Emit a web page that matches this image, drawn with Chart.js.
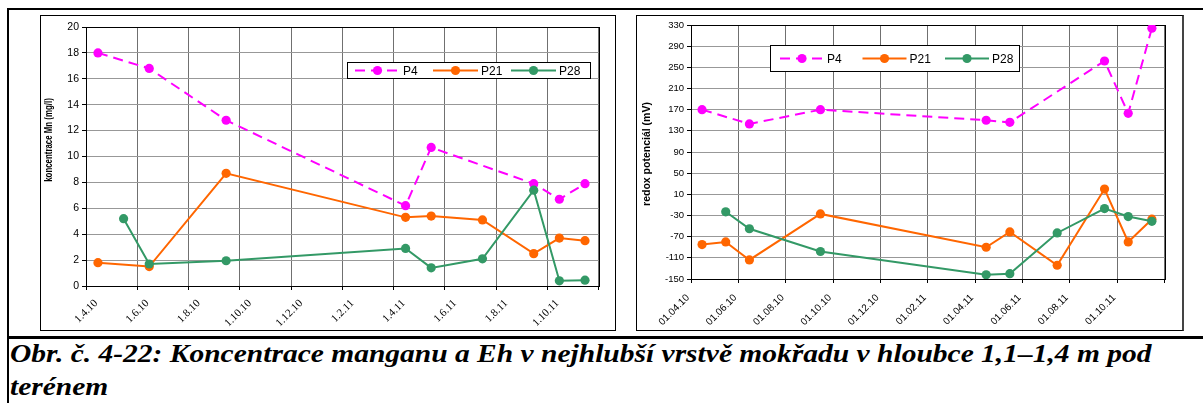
<!DOCTYPE html>
<html>
<head>
<meta charset="utf-8">
<script src="https://cdn.jsdelivr.net/npm/chart.js@4.4.1/dist/chart.umd.min.js"></script>
<style>
  body { margin: 0; background: #fff; width: 1203px; height: 403px; overflow: hidden; position: relative; }
  .line { position: absolute; background: #000; }
  .box { position: absolute; border: 1px solid #000; background: #fff; }
  #boxMn { left: 40px; top: 15px; width: 574px; height: 314px; }
  #boxEh { left: 636px; top: 15px; width: 545px; height: 314px; border-right: 2px solid #444; }
  .box canvas { position: absolute; left: 0; top: 0; }
  #caption {
    position: absolute; left: 10px; top: 337px; margin: 0;
    font: italic bold 25px 'Liberation Serif', 'Times New Roman', serif;
    line-height: 33px; color: #000; white-space: nowrap;
    transform: scaleX(1.18); transform-origin: 0 0;
  }
</style>
</head>
<body>
<div class="line" style="left:7px;top:8px;width:1196px;height:2px"></div>
<div class="line" style="left:7px;top:8px;width:2px;height:395px"></div>
<div class="line" style="left:7px;top:336px;width:1196px;height:3px"></div>
<div class="box" id="boxMn"><canvas id="chartMn" width="574" height="314"></canvas></div>
<div class="box" id="boxEh"><canvas id="chartEh" width="545" height="314"></canvas></div>
<p id="caption">Obr. č. 4-22: Koncentrace manganu a Eh v nejhlubší vrstvě mokřadu v hloubce 1,1–1,4 m pod<br>terénem</p>
<script>
'use strict'
// sampling dates (d.m.yy), same for both charts
const sampleDates = ['15.4.10', '15.5.10', '15.6.10', '15.9.10', '15.4.11', '15.5.11', '15.7.11', '15.9.11', '15.10.11', '15.11.11']
const seriesNames = ['P4', 'P21', 'P28']

// Mn concentration (mg/l)
const mnP4 = [18.0, null, 16.8, 12.8, 6.2, 10.7, null, 7.9, 6.7, 7.9]
const mnP21 = [1.8, null, 1.5, 8.7, 5.3, 5.4, 5.1, 2.5, 3.7, 3.5]
const mnP28 = [null, 5.2, 1.7, 1.95, 2.9, 1.4, 2.1, 7.4, 0.4, 0.45]

// redox potential (mV)
const ehP4 = [170, null, 143, 170, 150, 146, null, 262, 163, 324]
const ehP21 = [-85, -80, -114, -27, -90, -61, -124, 20, -80, -37]
const ehP28 = [null, -23, -55, -98, -142, -140, -63, -17, -32, -41]

// axes: x in months counted from 1.4.10
const xTicks = [0, 2, 4, 6, 8, 10, 12, 14, 16, 18, 20]
const mnXLabels = ['1.4.10', '1.6.10', '1.8.10', '1.10.10', '1.12.10', '1.2.11', '1.4.11', '1.6.11', '1.8.11', '1.10.11', '']
const ehXLabels = ['01.04.10', '01.06.10', '01.08.10', '01.10.10', '01.12.10', '01.02.11', '01.04.11', '01.06.11', '01.08.11', '01.10.11', '']
const mnYTicks = [0, 2, 4, 6, 8, 10, 12, 14, 16, 18, 20]
const ehYTicks = [-150, -110, -70, -30, 10, 50, 90, 130, 170, 210, 250, 290, 330]

const colors = ['#FF00FF', '#FF6600', '#339966']

Chart.defaults.color = '#000'
Chart.defaults.font.family = "'Liberation Sans', Arial, sans-serif"

function monthIndex(s) {
  const [d, m, y] = s.split('.').map(Number)
  return (y - 10) * 12 + (m - 4) + (d - 1) / 30
}

function toPoints(values) {
  return sampleDates.map((d, i) => ({ x: monthIndex(d), y: values[i] }))
}

function makeDatasets(series) {
  return series.map((vals, i) => ({
    label: seriesNames[i],
    data: toPoints(vals),
    borderColor: colors[i],
    backgroundColor: colors[i],
    pointBackgroundColor: colors[i],
    pointBorderColor: colors[i],
    pointBorderWidth: 0,
    pointRadius: 4.6,
    borderWidth: 2,
    borderDash: i === 0 ? [10, 6] : [],
    spanGaps: true,
    tension: 0,
    order: 2 - i, // P28 drawn on top, like in the original
  }))
}

// black frame round the plot area
const plotFrame = {
  id: 'plotFrame',
  beforeDatasetsDraw(chart) {
    const { ctx, chartArea: a } = chart
    ctx.save()
    ctx.strokeStyle = '#000'
    ctx.lineWidth = 1
    ctx.strokeRect(Math.round(a.left) + 0.5, Math.round(a.top) + 0.5, Math.round(a.right - a.left), Math.round(a.bottom - a.top))
    ctx.restore()
  },
}

// legend in a bordered box inside the plot
const boxLegend = {
  id: 'boxLegend',
  afterDatasetsDraw(chart, args, o) {
    const ctx = chart.ctx
    ctx.save()
    ctx.fillStyle = '#fff'
    ctx.fillRect(o.x, o.y, o.w, o.h)
    ctx.strokeStyle = '#000'
    ctx.lineWidth = 1
    ctx.strokeRect(o.x + 0.5, o.y + 0.5, o.w, o.h)
    const cy = o.y + o.h / 2 + 0.5
    chart.data.datasets.forEach((ds, i) => {
      const lx = o.x + o.pad + i * o.itemW
      ctx.strokeStyle = ds.borderColor
      ctx.lineWidth = 2
      ctx.setLineDash(ds.borderDash)
      ctx.beginPath()
      ctx.moveTo(lx, cy)
      ctx.lineTo(lx + o.lineLen, cy)
      ctx.stroke()
      ctx.setLineDash([])
      ctx.fillStyle = ds.borderColor
      ctx.beginPath()
      ctx.arc(lx + o.lineLen / 2, cy, 4.6, 0, 2 * Math.PI)
      ctx.fill()
      ctx.fillStyle = '#000'
      ctx.font = o.font
      ctx.textBaseline = 'middle'
      ctx.fillText(ds.label, lx + o.lineLen + 3, cy + 1)
    })
    ctx.restore()
  },
}

// rotated y axis title at a given spot (sx squeezes along the text)
const yTitle = {
  id: 'yTitle',
  afterDraw(chart, args, o) {
    const ctx = chart.ctx
    ctx.save()
    ctx.translate(o.x, o.y)
    ctx.rotate(-Math.PI / 2)
    ctx.scale(o.sx, 1)
    ctx.font = o.font
    ctx.fillStyle = '#000'
    ctx.textAlign = 'center'
    ctx.textBaseline = 'middle'
    ctx.fillText(o.text, 0, 0)
    ctx.restore()
  },
}

function makeChart(id, cfg) {
  return new Chart(document.getElementById(id).getContext('2d'), {
    type: 'line',
    data: { datasets: makeDatasets(cfg.series) },
    plugins: [plotFrame, boxLegend, yTitle],
    options: {
      responsive: false,
      animation: false,
      events: [],
      layout: { padding: cfg.padding },
      plugins: {
        legend: { display: false },
        tooltip: { enabled: false },
        boxLegend: cfg.legend,
        yTitle: cfg.yTitle,
      },
      scales: {
        x: {
          type: 'linear',
          min: 0,
          max: 20,
          afterBuildTicks: (s) => { s.ticks = xTicks.map((v) => ({ value: v })) },
          afterFit: (s) => { s.height = cfg.xHeight },
          grid: { color: '#707070', tickColor: '#000', tickLength: 4 },
          border: { color: '#000' },
          ticks: {
            autoSkip: false,
            minRotation: 45,
            maxRotation: 45,
            padding: cfg.labelPad,
            labelOffset: cfg.labelOffset,
            font: cfg.xFont,
            callback: (v, i) => cfg.xLabels[i],
          },
        },
        y: {
          min: cfg.yTicks[0],
          max: cfg.yTicks[cfg.yTicks.length - 1],
          afterBuildTicks: (s) => { s.ticks = cfg.yTicks.map((v) => ({ value: v })) },
          afterFit: (s) => { s.width = cfg.yWidth },
          grid: { color: '#989898', tickColor: '#000', tickLength: 4 },
          border: { color: '#000' },
          ticks: { padding: 3, font: cfg.yFont },
        },
      },
    },
  })
}

makeChart('chartMn', {
  series: [mnP4, mnP21, mnP28],
  xLabels: mnXLabels,
  yTicks: mnYTicks,
  padding: { top: 11, right: 1, left: 0, bottom: 0 },
  yWidth: 45,
  xHeight: 44,
  labelOffset: 10,
  labelPad: 7,
  xFont: { family: "'Liberation Serif', serif", size: 11 },
  yFont: { size: 10.5 },
  legend: { x: 306, y: 46, w: 243, h: 16, pad: 8, itemW: 78, lineLen: 45, font: '12px "Liberation Sans", Arial' },
  yTitle: { x: 8, y: 124, sx: 0.75, text: 'koncentrace Mn (mg/l)', font: 'bold 10.5px "Liberation Sans", Arial' },
})

makeChart('chartEh', {
  series: [ehP4, ehP21, ehP28],
  xLabels: ehXLabels,
  yTicks: ehYTicks,
  padding: { top: 9, right: 0, left: 0, bottom: 0 },
  yWidth: 54,
  xHeight: 51,
  labelOffset: -3,
  labelPad: 9,
  xFont: { size: 10 },
  yFont: { size: 9.5 },
  legend: { x: 133, y: 29, w: 249, h: 26, pad: 10, itemW: 82.5, lineLen: 44, font: '12px "Liberation Sans", Arial' },
  yTitle: { x: 10, y: 138, sx: 1, text: 'redox potenciál (mV)', font: 'bold 10.5px "Liberation Sans", Arial' },
})
</script>
</body>
</html>
